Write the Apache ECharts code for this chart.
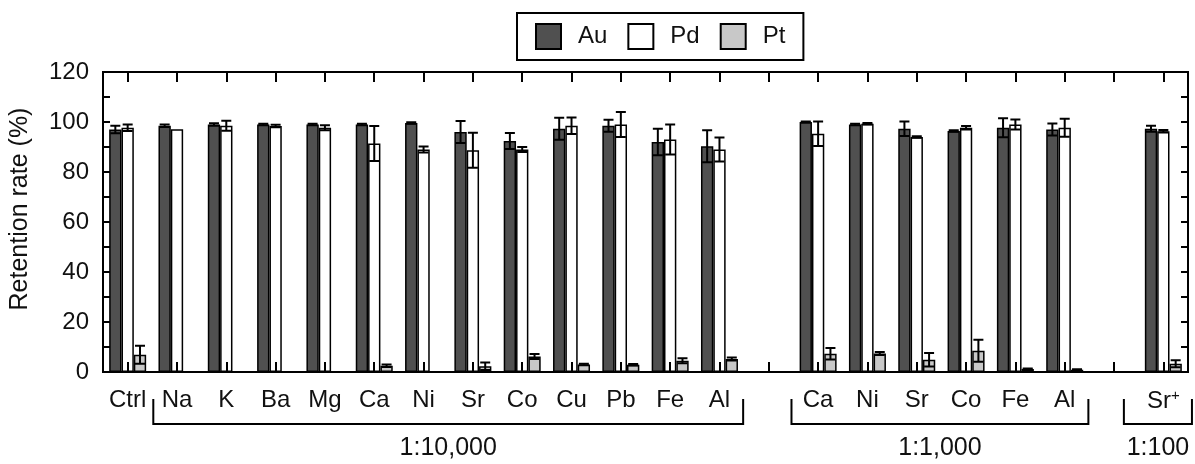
<!DOCTYPE html>
<html><head><meta charset="utf-8">
<script src="https://cdn.jsdelivr.net/npm/echarts@6/dist/echarts.min.js"></script>
<style>html,body{margin:0;padding:0;background:#fff}#c{width:1195px;height:464px}#d{position:absolute;left:0;top:0;font:11px monospace;color:rgba(0,0,0,0);z-index:9;width:480px}</style>
</head><body><div id="c"></div><div id="d"></div>
<script>
window.onerror = function(m, s, l){ document.getElementById('d').textContent += ' ERR:' + m + ' @' + l; };
console.error = function(){ document.getElementById('d').textContent += ' CE:' + Array.from(arguments).join(' ').slice(0,150); };
console.warn = function(){ document.getElementById('d').textContent += ' CW:' + Array.from(arguments).join(' ').slice(0,150); };
// ---- data ----
const categories = ['Ctrl','Na','K','Ba','Mg','Ca','Ni','Sr','Co','Cu','Pb','Fe','Al','','Ca','Ni','Sr','Co','Fe','Al','','Sr+'];
const auValues = [97, 98.5, 99, 99, 99, 99, 99.6, 96, 92.4, 97.3, 98.5, 92, 90.3, null, 100, 99, 97.3, 96.4, 97.7, 97, null, 97.3];
const auErrors = [1.5, 0.5, 0.5, 0.3, 0.3, 0.3, 0.3, 4.4, 3.2, 4.4, 2.4, 5.3, 6.4, null, 0.2, 0.3, 2.9, 0.3, 3.8, 2.4, null, 1.2];
const pdValues = [97.7, 97.1, 98.5, 98.4, 97.7, 91.4, 89, 88.7, 89, 98.5, 99, 93, 89, null, 95.3, 99.3, 94, 97.7, 99, 97.7, null, 96.3];
const pdErrors = [1.3, 0, 2, 0.5, 1, 7, 1.2, 7, 1, 3.3, 5, 6, 4.8, null, 4.9, 0.3, 0.3, 0.7, 2, 3.6, null, 0.5];
const ptValues = [6.9, 0, 0, 0, 0.3, 2.5, 0.2, 2.3, 6.2, 3, 2.9, 4.5, 5.2, null, 7.3, 7.4, 4.9, 8.5, 1.2, 0.9, null, 3.3];
const ptErrors = [3.6, 0, 0, 0, 0, 0.5, 0, 1.5, 1, 0.3, 0.3, 1, 0.6, null, 2.3, 0.6, 2.7, 4.4, 0.2, 0.2, null, 1.4];
const seriesNames = ['Au','Pd','Pt'];
const yTicks = [0, 20, 40, 60, 80, 100, 120];
const groupLabels = ['1:10,000', '1:1,000', '1:100'];
const groupRanges = [[1, 12], [14, 19], [21, 21]];

// ---- chart ----
const chart = echarts.init(document.getElementById('c'));
const FONT = 'Liberation Sans, Arial, sans-serif';
const TXT = '#111';
const colors = ['#505050', '#ffffff', '#c8c8c8'];
const valueSets = [auValues, pdValues, ptValues];
const errorSets = [auErrors, pdErrors, ptErrors];

function barSeries(k) {
  return {
    name: seriesNames[k], type: 'bar', barWidth: '25%', barGap: '0%', z: 2,
    data: valueSets[k],
    itemStyle: {color: colors[k], borderColor: '#000', borderWidth: 1.5}
  };
}
function errSeries(k) {
  const offset = k - 1;
  const data = [];
  valueSets[k].forEach((v, i) => {
    const e = errorSets[k][i];
    if (v != null && e) data.push([i, v, e]);
  });
  return {
    type: 'custom', name: seriesNames[k] + ' err', z: 6, silent: true,
    data: data, encode: {x: 0, y: 1},
    renderItem: function (params, api) {
      const i = api.value(0), v = api.value(1), e = api.value(2);
      const w = api.size([1, 0])[0];
      const dx = offset * w * 0.25;
      const top = api.coord([i, v + e]);
      const bot = api.coord([i, Math.max(0, v - e)]);
      const x = top[0] + dx, cap = 5;
      const st = {stroke: '#000', lineWidth: 2};
      return {type: 'group', children: [
        {type: 'line', shape: {x1: x, y1: top[1], x2: x, y2: bot[1]}, style: st},
        {type: 'line', shape: {x1: x - cap, y1: top[1], x2: x + cap, y2: top[1]}, style: st},
        {type: 'line', shape: {x1: x - cap, y1: bot[1], x2: x + cap, y2: bot[1]}, style: st}
      ]};
    }
  };
}

function axisLine() { return {show: true, onZero: false, lineStyle: {color: '#000', width: 2}}; }
function tick(len) { return {show: true, inside: true, length: len, alignWithLabel: true, lineStyle: {color: '#000', width: 2}}; }
function buildOption(graphics) {
  return {
    animation: false,
    textStyle: {fontFamily: FONT},
    grid: {left: 102, right: 7, top: 72, bottom: 92, show: true, borderColor: '#000', borderWidth: 2},
    legend: {
      data: seriesNames, left: 517, top: 13, padding: [10, 18, 10, 18],
      borderColor: '#000', borderWidth: 2, itemWidth: 25, itemHeight: 25, itemGap: 20,
      icon: 'rect', selectedMode: false,
      itemStyle: {borderColor: '#000', borderWidth: 2},
      textStyle: {fontSize: 24, color: TXT, fontFamily: FONT, padding: [0, 0, 0, 12]}
    },
    xAxis: [{
      type: 'category', data: categories, position: 'bottom', z: 10,
      axisLine: axisLine(), axisTick: tick(10),
      axisLabel: {
        interval: 0, fontSize: 24, color: TXT, margin: 16, fontFamily: FONT,
        formatter: v => v.endsWith('+') ? v.slice(0, -1) + '{sup|+}' : v,
        rich: {sup: {fontSize: 15, color: TXT, fontFamily: FONT, verticalAlign: 'top', padding: [0, 0, 12, 0]}}
      },
      splitLine: {show: false}
    }, {
      type: 'category', data: categories, position: 'top', z: 10,
      axisLine: axisLine(), axisTick: tick(10),
      axisLabel: {show: false}, splitLine: {show: false}
    }],
    yAxis: [{
      type: 'value', min: 0, max: 120, interval: 10, position: 'left', z: 10,
      name: 'Retention rate (%)', nameLocation: 'middle', nameGap: 70,
      nameTextStyle: {fontSize: 25, color: TXT, fontFamily: FONT, padding: [0, 0, 0, 26]},
      axisLine: axisLine(), axisTick: tick(7),
      axisLabel: {fontSize: 24, color: TXT, margin: 14, fontFamily: FONT,
        formatter: v => yTicks.indexOf(v) >= 0 ? String(v) : ''},
      splitLine: {show: false}
    }, {
      type: 'value', min: 0, max: 120, interval: 10, position: 'right', z: 10,
      axisLine: axisLine(), axisTick: tick(7),
      axisLabel: {show: false}, splitLine: {show: false}
    }],
    graphic: graphics,
    series: [barSeries(0), barSeries(1), barSeries(2), errSeries(0), errSeries(1), errSeries(2)]
  };
}
chart.setOption(buildOption([]));

// ---- group brackets, positioned from the category axis ----
function cx(i) { return chart.convertToPixel({xAxisIndex: 0}, i); }
const slot = cx(1) - cx(0);
const graphics = [];
const yTop = 399, yLine = 424;
groupRanges.forEach((r, g) => {
  let left = cx(r[0]) - 0.48 * slot, right = cx(r[1]) + 0.48 * slot;
  if (g === 1) left = cx(r[0]) - 0.54 * slot;
  if (g === 2) { left = cx(r[0]) - 0.8 * slot; right = Math.min(1193, cx(r[1]) + 0.58 * slot); }
  graphics.push({type: 'polyline', silent: true,
    shape: {points: [[left, yTop], [left, yLine], [right, yLine], [right, yTop]]},
    style: {stroke: '#000', lineWidth: 2, fill: null}});
  graphics.push({type: 'text', silent: true, x: (left + right) / 2, y: 448,
    style: {text: groupLabels[g], fontSize: 25, fill: TXT, fontFamily: FONT, align: 'center', verticalAlign: 'middle'}});
});
chart.setOption(buildOption(graphics), true);
const p = chart.convertToPixel({xAxisIndex: 1, yAxisIndex: 1}, [0, 120]);
document.getElementById('d').textContent += ' top=' + JSON.stringify(p);
</script></body></html>
